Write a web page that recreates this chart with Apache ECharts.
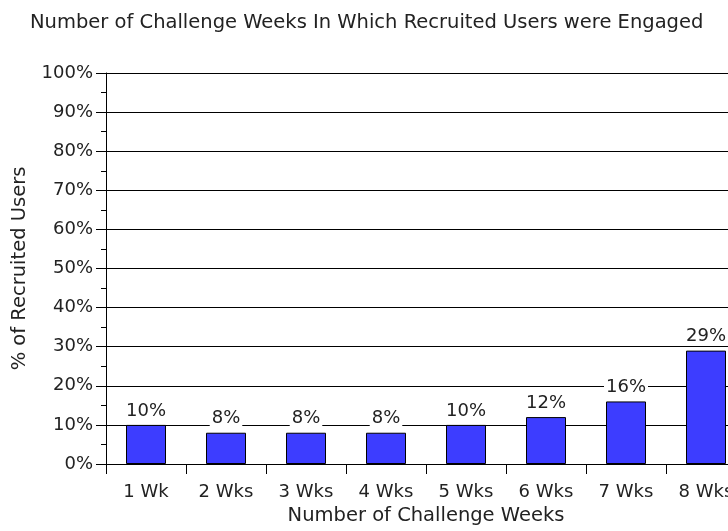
<!DOCTYPE html>
<html>
<head>
<meta charset="utf-8">
<script src="https://cdn.jsdelivr.net/npm/echarts@6/dist/echarts.min.js"></script>
<style>html,body{margin:0;padding:0;background:#fff;overflow:hidden;width:728px;height:531px}#c{width:770px;height:531px}</style>
</head>
<body>
<div id="c"></div>
<script>
var categories = ['1 Wk', '2 Wks', '3 Wks', '4 Wks', '5 Wks', '6 Wks', '7 Wks', '8 Wks'];
var values = [10, 8, 8, 8, 10, 12, 16, 29];
var titleText = 'Number of Challenge Weeks In Which Recruited Users were Engaged';
var xName = 'Number of Challenge Weeks';
var yName = '% of Recruited Users';

var font = 'DejaVu Sans, sans-serif';
var txt = '#222';
var fs = 18;
var fsName = 19.5;
var chart = echarts.init(document.getElementById('c'), null, {renderer: 'canvas'});
chart.setOption({
  animation: false,
  title: {
    text: titleText, left: 25, top: 8,
    textStyle: {fontFamily: font, fontSize: fsName, fontWeight: 'normal', color: txt}
  },
  grid: {left: 106, top: 73, bottom: 67, right: 24, containLabel: false},
  xAxis: {
    type: 'category', data: categories,
    name: xName, nameLocation: 'middle', nameGap: 42,
    nameTextStyle: {fontFamily: font, fontSize: fsName, color: txt},
    axisLine: {lineStyle: {color: '#000', width: 1}},
    axisTick: {show: true, length: 10, lineStyle: {color: '#000'}},
    axisLabel: {fontFamily: font, fontSize: fs, color: txt, margin: 19}
  },
  yAxis: {
    type: 'value', min: 0, max: 100, interval: 10,
    name: yName, nameLocation: 'middle', nameGap: 76,
    nameTextStyle: {fontFamily: font, fontSize: fsName, color: txt},
    axisLine: {show: true, lineStyle: {color: '#000', width: 1}},
    axisTick: {show: true, length: 10, lineStyle: {color: '#000'}},
    minorTick: {show: true, splitNumber: 2, length: 5, lineStyle: {color: '#000'}},
    axisLabel: {fontFamily: font, fontSize: fs, color: txt, margin: 13, formatter: '{value}%'},
    splitLine: {show: true, lineStyle: {color: '#000', width: 1}}
  },
  series: [{
    type: 'bar', data: values, barWidth: '50%',
    itemStyle: {color: '#3d3dff', borderColor: '#000', borderWidth: 1},
    label: {
      show: true, position: 'top', distance: 5, formatter: '{c}%',
      fontFamily: font, fontSize: fs, color: txt,
      backgroundColor: '#fff', padding: [0, 2, 0, 2]
    }
  }]
});
</script>
</body>
</html>
